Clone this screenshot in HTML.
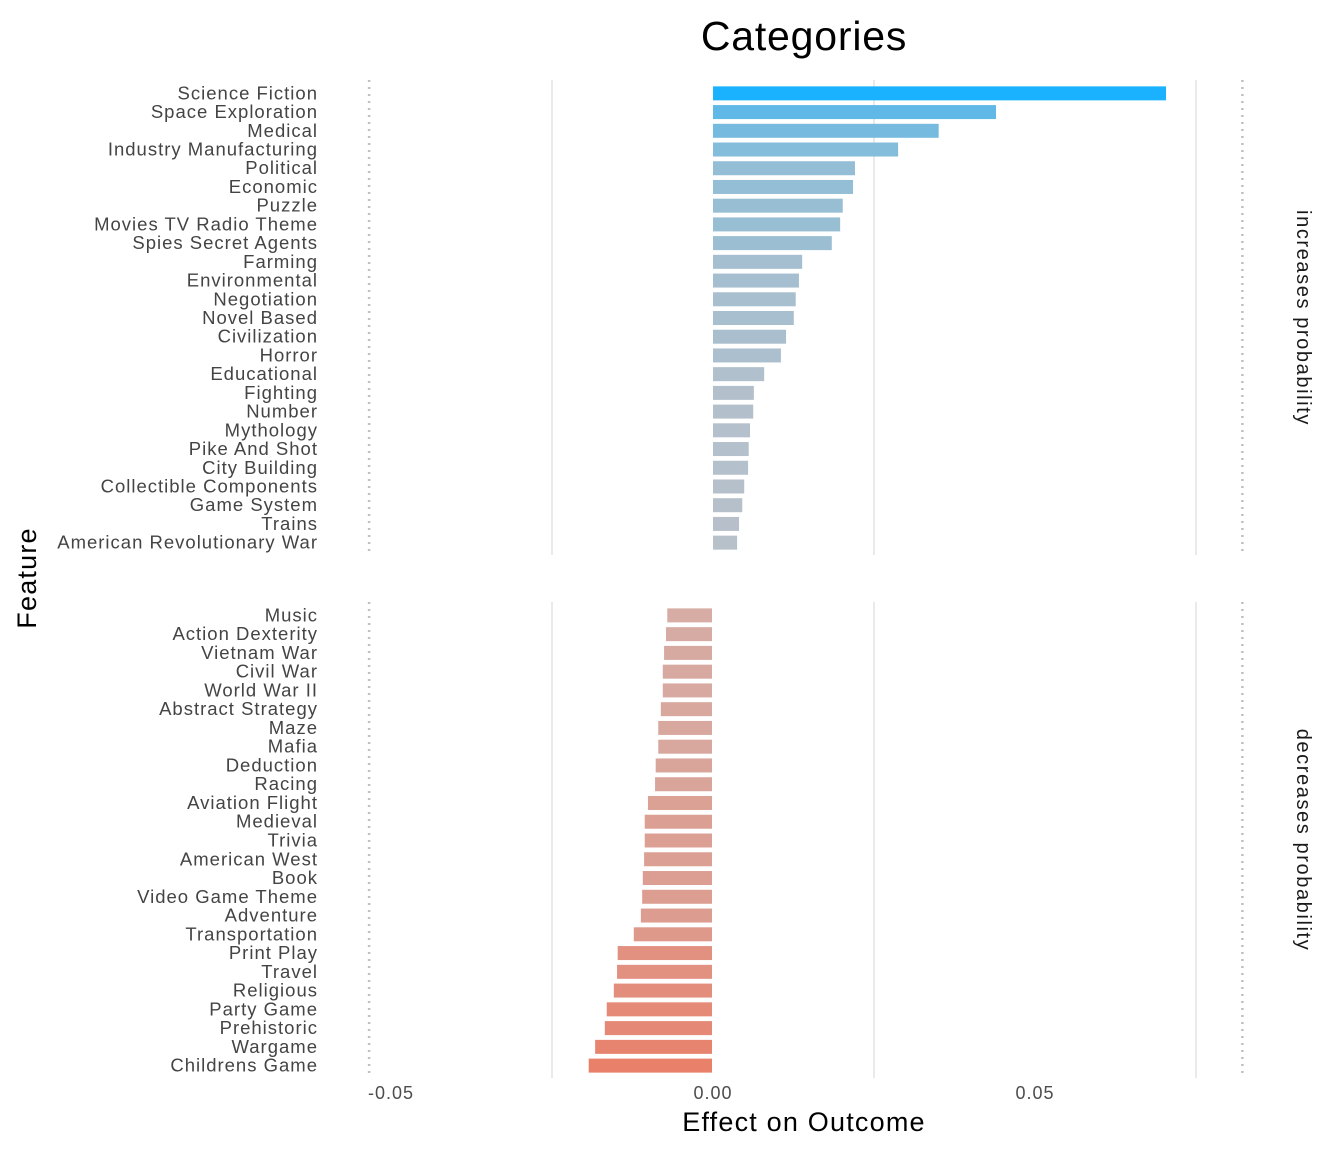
<!DOCTYPE html>
<html><head><meta charset="utf-8"><style>
body{margin:0;background:#fff;}
svg{display:block;font-family:"Liberation Sans",sans-serif;}
</style></head><body>
<svg id="chart" width="1344" height="1152" xmlns="http://www.w3.org/2000/svg">
<text x="804" y="50" font-size="41" letter-spacing="0.8" text-anchor="middle" fill="#000">Categories</text>
<text transform="translate(36,578) rotate(-90)" font-size="27" letter-spacing="1.2" text-anchor="middle" fill="#000">Feature</text>
<text x="804" y="1131" font-size="27" letter-spacing="1.2" text-anchor="middle" fill="#000">Effect on Outcome</text>
<text transform="translate(1297,318) rotate(90)" font-size="20" letter-spacing="1.6" text-anchor="middle" fill="#1a1a1a">increases probability</text>
<text transform="translate(1297,840) rotate(90)" font-size="20" letter-spacing="1.6" text-anchor="middle" fill="#1a1a1a">decreases probability</text>
<g id="grid"></g><g id="bars"></g><g id="labels"></g><g id="ticks"></g>
</svg>
<script>
const topCats=["Science Fiction","Space Exploration","Medical","Industry Manufacturing","Political","Economic","Puzzle","Movies TV Radio Theme","Spies Secret Agents","Farming","Environmental","Negotiation","Novel Based","Civilization","Horror","Educational","Fighting","Number","Mythology","Pike And Shot","City Building","Collectible Components","Game System","Trains","American Revolutionary War"];
const topVals=[0.0705,0.0441,0.0352,0.0289,0.0222,0.0219,0.0203,0.0199,0.0186,0.0140,0.0135,0.0130,0.0127,0.0115,0.0107,0.0081,0.0065,0.0064,0.0059,0.0057,0.0056,0.0050,0.0047,0.0042,0.0039];
const botCats=["Music","Action Dexterity","Vietnam War","Civil War","World War II","Abstract Strategy","Maze","Mafia","Deduction","Racing","Aviation Flight","Medieval","Trivia","American West","Book","Video Game Theme","Adventure","Transportation","Print Play","Travel","Religious","Party Game","Prehistoric","Wargame","Childrens Game"];
const botVals=[-0.0071,-0.0073,-0.0076,-0.0078,-0.0078,-0.0081,-0.0085,-0.0085,-0.0089,-0.0090,-0.0101,-0.0106,-0.0106,-0.0107,-0.0109,-0.0110,-0.0112,-0.0123,-0.0148,-0.0149,-0.0154,-0.0165,-0.0168,-0.0183,-0.0193];
const tickVals=[-0.05,0,0.05];
const tickLabels=["-0.05","0.00","0.05"];
const gridVals=[-0.025,0.025,0.075];
const refVals=[-0.0534,0.0822];

const NS="http://www.w3.org/2000/svg";
const x=v=>713+v*6440;
const panels=[{cats:topCats,vals:topVals,y0:84,y1:552},{cats:botCats,vals:botVals,y0:606,y1:1075}];
function mk(tag,attrs,parent){const e=document.createElementNS(NS,tag);for(const k in attrs)e.setAttribute(k,attrs[k]);document.getElementById(parent).appendChild(e);return e;}
function mix(a,b,t){return `rgb(${a.map((c,i)=>Math.round(c+(b[i]-c)*t)).join(',')})`;}
const grey=[188,193,200],blue=[26,178,255],pale=[214,172,164],red=[233,128,106];
const maxV=Math.max(...topVals),minV=Math.min(...botVals);
panels.forEach(p=>{
  gridVals.forEach(g=>{
    const l=mk('line',{x1:x(g),x2:x(g),y1:p.y0-4,y2:p.y1+3,stroke:'#dcdcdc','stroke-width':1.2},'grid');
    
    
  });
  refVals.forEach(r=>{
    const l=mk('line',{x1:x(r),x2:x(r),y1:p.y0-4,y2:p.y1+3,stroke:'#c0c0c0','stroke-width':2.5,'stroke-dasharray':'2,5'},'grid');
    
    
  });
  const step=(p.y1-p.y0)/p.cats.length;
  p.cats.forEach((c,i)=>{
    const v=p.vals[i];const cy=p.y0+step*(i+0.5);
    let fill;
    if(v>=0)fill=mix(grey,blue,Math.pow(v/maxV,1.2));else fill=mix(pale,red,Math.max(0,(v-(-0.007))/(minV+0.007)));
    const x0=v>=0?x(0):x(v), w=Math.abs(x(v)-x(0))-1;
    const b=mk('rect',{x:x0,y:cy-7,width:w,height:14,fill:fill},'bars');
    
    
    const t=mk('text',{x:318,y:cy+6,'font-size':18.5,'letter-spacing':1,'text-anchor':'end',fill:'#444'},'labels');
    t.textContent=c;
    
    
  });
});
tickVals.forEach((v,i)=>{
  const t=mk('text',{x:x(v),y:1099,'font-size':18,'letter-spacing':1,'text-anchor':'middle',fill:'#4d4d4d'},'ticks');
  t.textContent=tickLabels[i];
  
  
});
</script>
</body></html>
